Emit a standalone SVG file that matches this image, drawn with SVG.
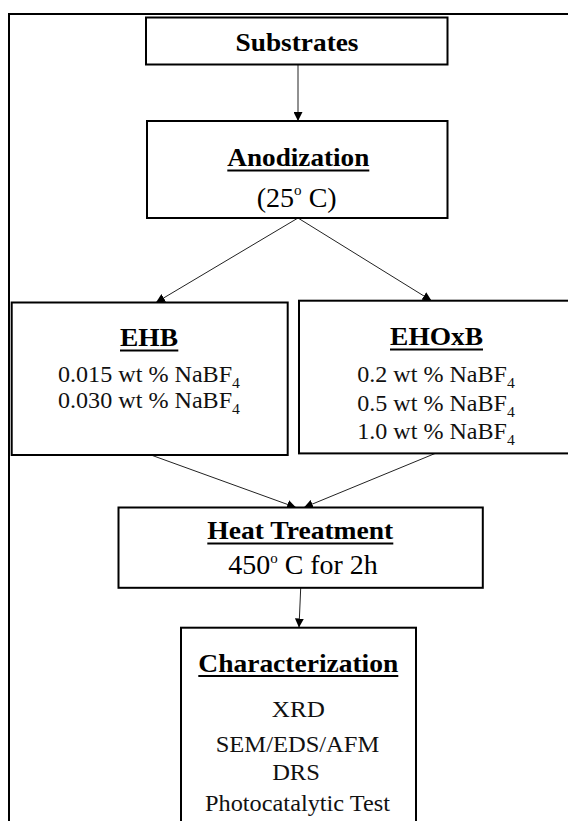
<svg xmlns="http://www.w3.org/2000/svg" width="568" height="821" viewBox="0 0 568 821">
<style>
.box{fill:#fff;stroke:#000;stroke-width:2}
.frame{fill:none;stroke:#000;stroke-width:2}
.h{font-family:"Liberation Serif","Times New Roman",serif;font-weight:bold;font-size:26px;fill:#000;text-anchor:middle}
.t{font-family:"Liberation Serif","Times New Roman",serif;font-size:23px;fill:#111;text-anchor:middle}
.t27{font-family:"Liberation Serif","Times New Roman",serif;font-size:27px;fill:#000;text-anchor:middle}
.ul{stroke:#000;stroke-width:1.8}
.c{stroke:#222;stroke-width:1;fill:none;marker-end:url(#ah)}
</style>
<defs>
<marker id="ah" markerUnits="userSpaceOnUse" markerWidth="9" markerHeight="9" refX="9" refY="4.5" orient="auto">
<path d="M0,0 L9,4.5 L0,9 z" fill="#000"/>
</marker>
</defs>
<rect width="568" height="821" fill="#fff"/>
<rect class="frame" x="9" y="14" width="620" height="900"/>
<g id="connectors">
<line class="c" x1="298" y1="64.5" x2="298" y2="121"/>
<line class="c" x1="298" y1="218" x2="156" y2="302.5"/>
<line class="c" x1="298" y1="218" x2="431.5" y2="300.7"/>
<line class="c" x1="151" y1="455" x2="296" y2="507.5"/>
<line class="c" x1="435" y1="453.5" x2="304" y2="507.5"/>
<line class="c" x1="300.7" y1="588" x2="299" y2="627.5"/>
</g>
<g id="substrates">
<rect class="box" x="146" y="17.5" width="301.5" height="47"/>
<text class="h" x="297" y="50.7" textLength="123" lengthAdjust="spacingAndGlyphs">Substrates</text>
</g>
<g id="anodization">
<rect class="box" x="147" y="121" width="300.5" height="97"/>
<text class="h" x="298.3" y="165.5" textLength="142" lengthAdjust="spacingAndGlyphs">Anodization</text>
<line class="ul" x1="227.3" y1="170.5" x2="369.3" y2="170.5"/>
<text class="t27" x="296.7" y="206.5" textLength="80" lengthAdjust="spacingAndGlyphs">(25<tspan font-size="14.5" dy="-11.5">o</tspan><tspan dy="11.5"> C)</tspan></text>
</g>
<g id="ehb">
<rect class="box" x="11.7" y="302.5" width="276" height="152.5"/>
<text class="h" x="149" y="346" textLength="58" lengthAdjust="spacingAndGlyphs">EHB</text>
<line class="ul" x1="120" y1="350.5" x2="178.3" y2="350.5"/>
<text class="t" x="149" y="381.5" textLength="182" lengthAdjust="spacingAndGlyphs">0.015 wt % NaBF<tspan font-size="15" dy="6">4</tspan></text>
<text class="t" x="149" y="407.7" textLength="182" lengthAdjust="spacingAndGlyphs">0.030 wt % NaBF<tspan font-size="15" dy="6">4</tspan></text>
</g>
<g id="ehoxb">
<rect class="box" x="299" y="300.7" width="300" height="152.7"/>
<text class="h" x="436.6" y="345" textLength="93" lengthAdjust="spacingAndGlyphs">EHOxB</text>
<line class="ul" x1="390" y1="349.5" x2="483" y2="349.5"/>
<text class="t" x="436" y="382" textLength="157.5" lengthAdjust="spacingAndGlyphs">0.2 wt % NaBF<tspan font-size="15" dy="6">4</tspan></text>
<text class="t" x="436" y="410.5" textLength="157.5" lengthAdjust="spacingAndGlyphs">0.5 wt % NaBF<tspan font-size="15" dy="6">4</tspan></text>
<text class="t" x="436" y="439" textLength="157.5" lengthAdjust="spacingAndGlyphs">1.0 wt % NaBF<tspan font-size="15" dy="6">4</tspan></text>
</g>
<g id="heat-treatment">
<rect class="box" x="118.5" y="507.5" width="364.3" height="80.3"/>
<text class="h" x="300.3" y="539.3" textLength="186" lengthAdjust="spacingAndGlyphs">Heat Treatment</text>
<line class="ul" x1="207.3" y1="543.5" x2="393.3" y2="543.5"/>
<text class="t27" x="303" y="574.3" textLength="149.4" lengthAdjust="spacingAndGlyphs">450<tspan font-size="14.5" dy="-11.5">o</tspan><tspan dy="11.5"> C for 2h</tspan></text>
</g>
<g id="characterization">
<rect class="box" x="181" y="627.7" width="235" height="250"/>
<text class="h" x="298.3" y="671.7" textLength="200" lengthAdjust="spacingAndGlyphs">Characterization</text>
<line class="ul" x1="198.3" y1="676" x2="398.3" y2="676"/>
<text class="t" x="298.3" y="717.3" textLength="53" lengthAdjust="spacingAndGlyphs">XRD</text>
<text class="t" x="297.5" y="752" textLength="163.6" lengthAdjust="spacingAndGlyphs">SEM/EDS/AFM</text>
<text class="t" x="296" y="780" textLength="47.7" lengthAdjust="spacingAndGlyphs">DRS</text>
<text class="t" x="297.5" y="811" textLength="185" lengthAdjust="spacingAndGlyphs">Photocatalytic Test</text>
</g>
</svg>
